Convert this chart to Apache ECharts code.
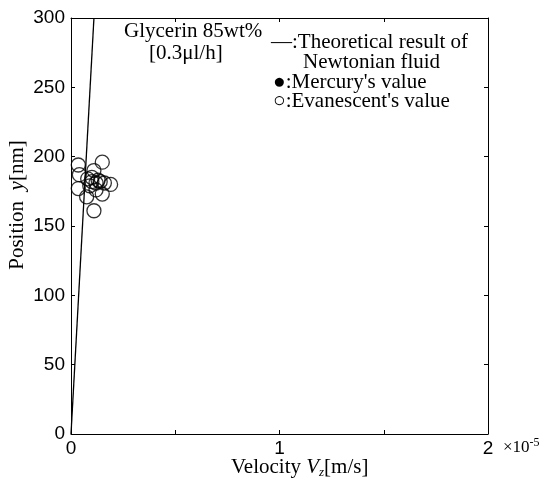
<!DOCTYPE html>
<html><head><meta charset="utf-8">
<script src="https://cdn.jsdelivr.net/npm/echarts@6/dist/echarts.min.js"></script>
<style>html,body{margin:0;padding:0;background:#fff}#c{width:549px;height:479px}</style>
</head><body><div id="c"></div>
<script>
// Data
const theoryLine = [[0, 0], [1.1e-6, 300]];
const evanescentVz = [0.35e-6,0.4e-6,0.35e-6,0.75e-6,1.1e-6,1.5e-6,1.1e-6,1.5e-6,1.9e-6,0.8e-6,1.0e-6,1.2e-6,1.4e-6,1.6e-6,1.2e-6,0.9e-6,1.3e-6,1.0e-6];
const evanescentY  = [194,187,177,171,190,196,161,173,180,184,182,181,182,181,176,179,183,185];
const xTicks = [0, 0.5e-5, 1e-5, 1.5e-5, 2e-5];
const xTickLabels = ['0', '', '1', '', '2'];
const yTicks = [0, 50, 100, 150, 200, 250, 300];

const evData = evanescentVz.map((v, i) => [v, evanescentY[i]]);
const serif = '"Liberation Serif", "Times New Roman", serif';
const sans = '"Liberation Sans", Arial, sans-serif';

function xLabel(v) {
  const i = xTicks.findIndex(t => Math.abs(t - v) < 1e-12);
  return i >= 0 ? xTickLabels[i] : '';
}

const chart = echarts.init(document.getElementById('c'));
function axisCommon() {
  return {
    axisLine: { show: true, onZero: false, lineStyle: { color: '#000', width: 1 } },
    axisTick: { show: true, inside: true, length: 4, lineStyle: { color: '#000' } },
    splitLine: { show: false }
  };
}
function txt(x, y, text, size) {
  return { type: 'text', x: x, y: y, style: { text: text, font: size + 'px ' + serif, fill: '#000', verticalAlign: 'middle' } };
}
chart.setOption({
  animation: false,
  grid: { left: 71, top: 18, width: 417, height: 416 },
  xAxis: [
    Object.assign({ type: 'value', min: 0, max: 2e-5, interval: 0.5e-5, position: 'bottom',
      axisLabel: { formatter: xLabel, color: '#000', fontFamily: sans, fontSize: 19, margin: 5 } }, axisCommon()),
    Object.assign({ type: 'value', min: 0, max: 2e-5, interval: 0.5e-5, position: 'top',
      axisLabel: { show: false } }, axisCommon())
  ],
  yAxis: [
    Object.assign({ type: 'value', min: 0, max: 300, interval: 50, position: 'left',
      axisLabel: { color: '#000', fontFamily: sans, fontSize: 19, margin: 6,
        formatter: v => yTicks.includes(v) ? String(v) : '' } }, axisCommon()),
    Object.assign({ type: 'value', min: 0, max: 300, interval: 50, position: 'right',
      axisLabel: { show: false } }, axisCommon())
  ],
  series: [
    { type: 'line', data: theoryLine, symbol: 'none', lineStyle: { color: '#000', width: 1.3 }, clip: true },
    { type: 'scatter', data: evData, symbol: 'circle', symbolSize: 14,
      itemStyle: { color: 'rgba(0,0,0,0)', borderColor: '#000', borderWidth: 1.3 } }
  ],
  graphic: [
    txt(124, 31, 'Glycerin 85wt%', 21),
    txt(149, 53, '[0.3μl/h]', 21),
    txt(271, 42, '—:Theoretical result of', 21),
    txt(303, 62, 'Newtonian fluid', 21),
    txt(273, 82, '●:Mercury\'s value', 21),
    txt(273, 101, '○:Evanescent\'s value', 21),
    { type: 'text', x: 503, y: 437, style: { rich: { a: { font: '17px ' + serif, fill: '#000' }, s: { font: '12px ' + serif, fill: '#000', padding: [0,0,10,0] } }, text: '{a|×10}{s|-5}' } },
    { type: 'text', x: 231, y: 456, style: { rich: { n: { font: '21px ' + serif, fill: '#000' }, i: { font: 'italic 21px ' + serif, fill: '#000' }, z: { font: 'italic 13px ' + serif, fill: '#000', padding: [10,0,0,0] } }, text: '{n|Velocity }{i|V}{z|z}{n|[m/s]}' } },
    { type: 'text', x: 17, y: 205, rotation: Math.PI / 2, style: { rich: { n: { font: '21px ' + serif, fill: '#000' }, i: { font: 'italic 21px ' + serif, fill: '#000' } }, text: '{n|Position  }{i|y}{n|[nm]}', align: 'center', verticalAlign: 'middle' } }
  ]
});
</script></body></html>
